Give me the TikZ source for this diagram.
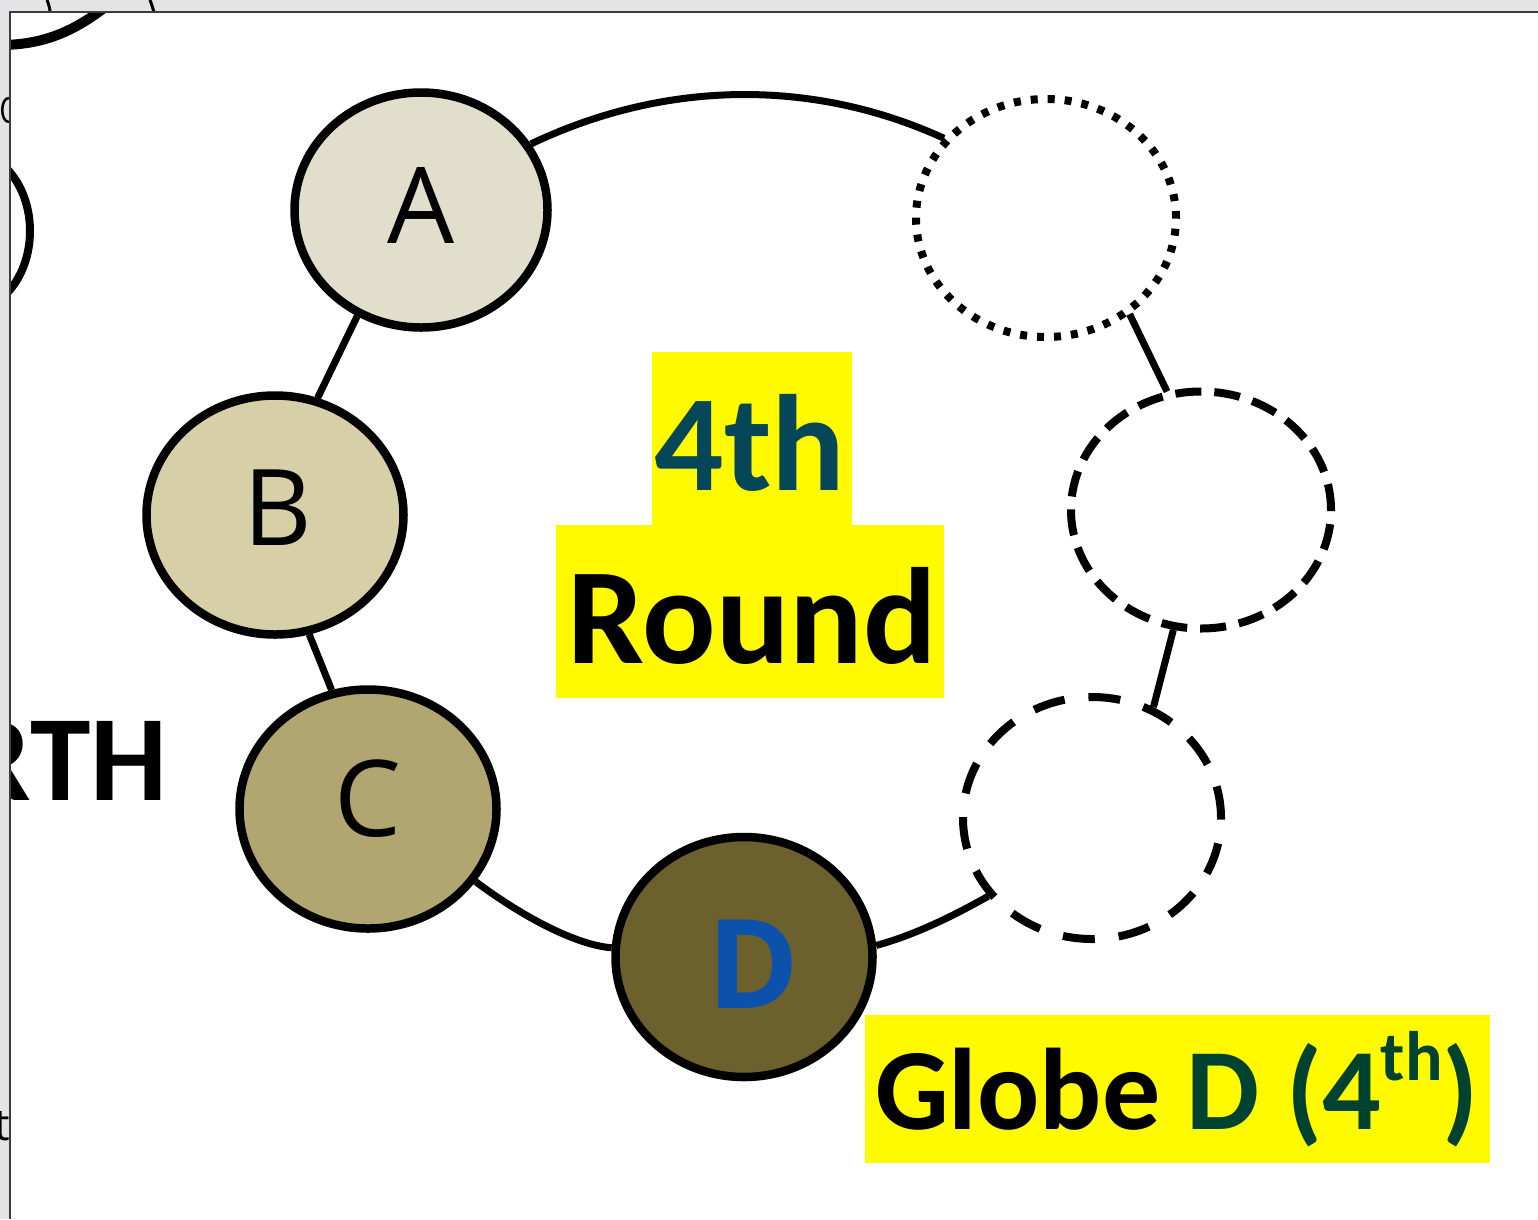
\documentclass[tikz,border=0pt]{standalone}
\usepackage{fontspec}
\usetikzlibrary{shapes.geometric}
\newfontfamily\osans{Open Sans}
\newfontfamily\carl{Carlito}
\definecolor{framegray}{RGB}{228,228,230}
\definecolor{frameline}{RGB}{60,60,60}
\definecolor{cA}{RGB}{225,223,203}
\definecolor{cB}{RGB}{214,207,168}
\definecolor{cC}{RGB}{177,165,112}
\definecolor{cD}{RGB}{108,96,45}
\definecolor{blueD}{RGB}{12,82,172}
\definecolor{teal4}{RGB}{5,70,88}
\definecolor{greenD}{RGB}{0,66,48}
\definecolor{hl}{RGB}{255,250,0}
\begin{document}
\begin{tikzpicture}[x=1pt,y=-1pt,
  globe/.style={ellipse, draw=black, line width=8.5pt, inner sep=0pt, minimum width=257pt, minimum height=239pt},
  dotglobe/.style={globe, line width=8pt, dash pattern=on 7pt off 10pt},
  dashglobe/.style={globe, line width=8pt, dash pattern=on 26pt off 13pt},
  wideglobe/.style={globe, line width=8pt, dash pattern=on 32pt off 24pt},
  ring/.style={draw=black, line width=7pt},
  letter/.style={inner sep=0pt, font=\osans\fontsize{106}{106}\selectfont},
  boldlbl/.style={inner sep=0pt, font=\carl\bfseries\fontsize{137}{137}\selectfont},
  edge/.style={draw=black, line width=7pt}
]
\useasboundingbox (0,0) rectangle (1538,1219);
\fill[framegray] (0,0) rectangle (1538,1219);
\fill[white] (10,12) rectangle (1538,1219);
% bits of neighbouring content in the grey margin
\draw[edge, line width=3pt] (47,0) .. controls (49,5) and (50,9) .. (50,12);
\draw[edge, line width=3pt] (150,0) .. controls (152,5) and (153,9) .. (154,12);
\draw[edge, line width=2.5pt] (9,98) .. controls (0,98) and (0,122) .. (9,122);
\node[anchor=base east, inner sep=0pt, font=\osans\fontsize{44}{44}\selectfont] (tcut) at (10,1140) {t};
\begin{scope}
\clip (10,12) rectangle (1538,1219);
\draw[edge, line width=10pt] (0,45) .. controls (45,45) and (75,30) .. (104,8);
\draw[edge, line width=8pt] (6,168) .. controls (38,200) and (38,262) .. (6,294);
\node[anchor=base east, inner sep=0pt, font=\carl\bfseries\fontsize{122}{122}\selectfont] (rth) at (168,800) {RTH};
% yellow highlights
\fill[hl] (652,352) rectangle (852,527);
\fill[hl] (556,525) rectangle (944,698);
\node[boldlbl, anchor=base, text=teal4] (four) at (750,490) {4th};
\node[boldlbl, anchor=base] (round) at (752,663) {Round};
\node[fill=hl, inner sep=0pt, minimum width=625pt, minimum height=148pt,
      font=\carl\bfseries\fontsize{116}{116}\selectfont] (glabel) at (1177,1089)
      {Globe \textcolor{greenD}{D (4\raisebox{0.42em}{\fontsize{70}{70}\selectfont th})}};
% globes
\node[globe, fill=cA, minimum width=253pt, minimum height=235pt] (A) at (421,210) {};
\node[globe, fill=cB] (B) at (275,515) {};
\node[globe, fill=cC] (C) at (368,809) {};
\node[globe, fill=cD, minimum height=240pt] (D) at (744,957) {};
\node[dotglobe, minimum width=260pt, minimum height=238pt] (P1) at (1046,218) {};
\node[dashglobe, minimum width=260pt, minimum height=237pt] (P2) at (1201,510) {};
\node[wideglobe, minimum width=258pt, minimum height=242pt] (P3) at (1092,818) {};
% connectors
\draw[ring] (A.31) .. controls (669,78) and (817,80) .. (P1.142);
\draw[ring] (A.239) -- (B.70);
\draw[ring] (B.286) -- (C.107);
\draw[ring] (C.326) .. controls (520,915) and (575,945) .. (D.176);
\draw[ring] (D.5) .. controls (915,935) and (955,915) .. (P3.217);
\draw[ring] (P3.61) -- (P2.257);
\draw[ring] (P1.311) -- (P2.106);
% letters
\node[letter, anchor=base] (tA) at (421,243) {A};
\node[letter, anchor=base] (tB) at (278,545) {B};
\node[letter, anchor=base] (tC) at (368,836) {C};
\node[inner sep=0pt, anchor=base, text=blueD, font=\osans\bfseries\fontsize{124}{124}\selectfont] (tD) at (753,1008) {D};
\end{scope}
\draw[frameline, line width=2pt] (10,1219) -- (10,12) -- (1538,12);
\end{tikzpicture}
\end{document}
